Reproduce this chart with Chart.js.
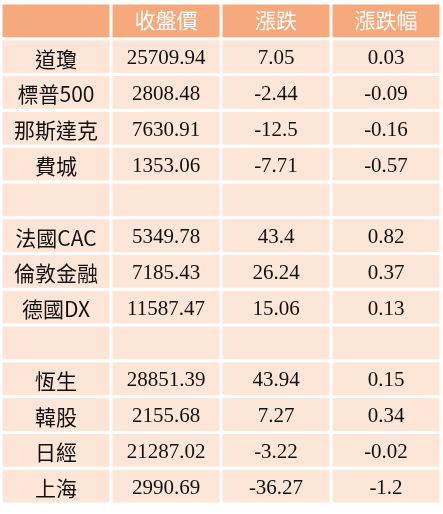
<!DOCTYPE html>
<html>
<head>
<meta charset="utf-8">
<script src="https://cdn.jsdelivr.net/npm/chart.js@4"></script>
<style>body{margin:0;background:#fff}</style>
</head>
<body>
<canvas id="tbl" width="443" height="514"></canvas>
<script>
// 表頭與資料
const headers = ["", "收盤價", "漲跌", "漲跌幅"];
const names = ["道瓊", "標普500", "那斯達克", "費城", null, "法國CAC", "倫敦金融", "德國DX", null, "恆生", "韓股", "日經", "上海"];
const closes = ["25709.94", "2808.48", "7630.91", "1353.06", null, "5349.78", "7185.43", "11587.47", null, "28851.39", "2155.68", "21287.02", "2990.69"];
const changes = ["7.05", "-2.44", "-12.5", "-7.71", null, "43.4", "26.24", "15.06", null, "43.94", "7.27", "-3.22", "-36.27"];
const pcts = ["0.03", "-0.09", "-0.16", "-0.57", null, "0.82", "0.37", "0.13", null, "0.15", "0.34", "-0.02", "-1.2"];

const nRows = names.length + 1;
const tablePlugin = {
    id: "tablePlugin",
    afterDraw(chart) {
        const ctx = chart.ctx;
        const xs = chart.scales.x, ys = chart.scales.y;
        const cols = [names, closes, changes, pcts];
        for (let r = 0; r < nRows; r++) {
            for (let c = 0; c < 4; c++) {
                const x0 = xs.getPixelForValue(c) + 1.5, x1 = xs.getPixelForValue(c + 1) - 1.5;
                const y0 = ys.getPixelForValue(r) + 1.5, y1 = ys.getPixelForValue(r + 1) - 1.5;
                ctx.fillStyle = r === 0 ? "#f6a97c" : "#fde6d8";
                ctx.fillRect(x0, y0, x1 - x0, y1 - y0);
                const txt = r === 0 ? headers[c] : cols[c][r - 1];
                if (!txt) continue;
                ctx.fillStyle = r === 0 ? "#ffffff" : "#111111";
                if (r === 0) ctx.font = "21px 'Liberation Serif', 'Noto Sans CJK TC'";
                else if (c === 0) ctx.font = "21px 'Noto Sans CJK TC'";
                else ctx.font = "21px 'Liberation Serif'";
                ctx.textAlign = "center";
                ctx.textBaseline = "middle";
                ctx.fillText(txt, (x0 + x1) / 2, (y0 + y1) / 2 + 2);
            }
        }
    }
};

new Chart(document.getElementById("tbl"), {
    type: "scatter",
    data: { datasets: [{ data: [] }] },
    options: {
        responsive: false,
        animation: false,
        layout: { padding: { left: 1, right: 2, top: 3, bottom: 10 } },
        plugins: { legend: { display: false }, tooltip: { enabled: false } },
        scales: {
            x: { type: "linear", min: 0, max: 4, display: false },
            y: { type: "linear", min: 0, max: nRows, reverse: true, display: false }
        }
    },
    plugins: [tablePlugin]
});
</script>
</body>
</html>
